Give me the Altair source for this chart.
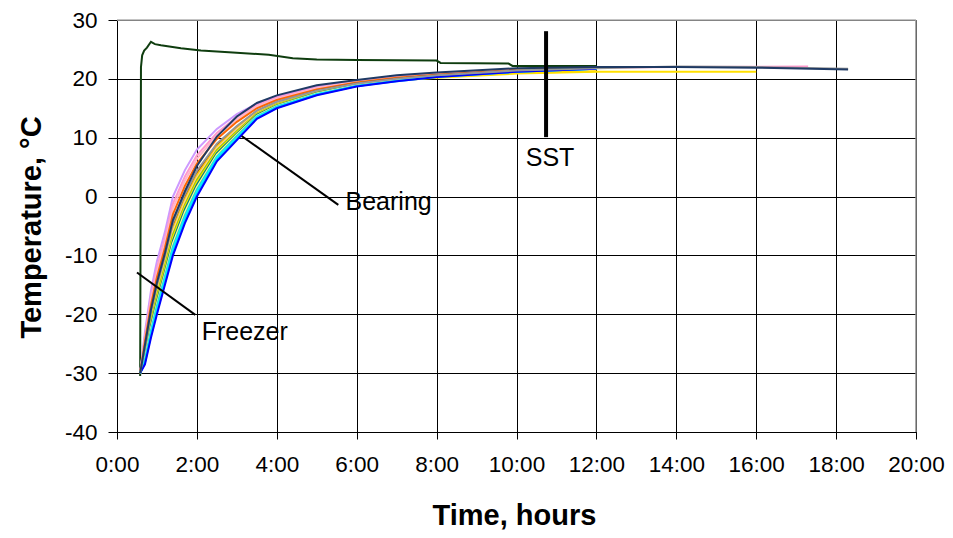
import altair as alt
import pandas as pd

# ---- data ----
hours = [0.58, 0.7, 0.85, 1.0, 1.2, 1.4, 1.7, 2.0, 2.5, 3.0, 3.5, 4.0, 5.0, 6.0, 7.0, 8.0, 10.0, 12.0]

lavender = [-30, -23.0, -16.0, -11.0, -6.0, 0.0, 4.5, 8.0, 11.5, 14.0, 15.8, 17.0, 18.7, 19.7, 20.4, 20.9, 21.6, 21.9]
rose = [-30, -23.7, -17.0, -12.1, -7.1, -1.2, 3.4, 7.0, 10.8, 13.5, 15.5, 16.8, 18.5, 19.6, 20.3, 20.8, 21.5, 21.9]
rose_ext_hours = [14.0, 17.3]
rose_ext = [22.0, 22.1]
pink = [-30, -24.1, -17.6, -12.8, -7.8, -2.0, 2.7, 6.4, 10.4, 13.1, 15.3, 16.6, 18.4, 19.5, 20.2, 20.8, 21.5, 21.9]
orange = [-30, -24.6, -18.4, -13.7, -8.7, -3.0, 1.8, 5.6, 9.8, 12.7, 15.0, 16.4, 18.2, 19.4, 20.2, 20.7, 21.5, 21.8]
brown = [-30, -25.8, -20.0, -15.5, -10.5, -5.0, 0.0, 4.0, 8.8, 11.8, 14.5, 16.0, 18.0, 19.2, 20.0, 20.6, 21.4, 21.8]
gold = [-30, -26.0, -20.4, -16.0, -11.0, -5.5, -0.5, 3.6, 8.5, 11.6, 14.4, 15.9, 17.9, 19.1, 19.9, 20.3, 21.0, 21.3]
tan = [-30, -26.3, -20.8, -16.4, -11.4, -6.0, -0.9, 3.2, 8.2, 11.4, 14.2, 15.8, 17.8, 19.1, 19.9, 20.5, 21.4, 21.8]
lime = [-30, -26.6, -21.2, -16.8, -11.8, -6.5, -1.4, 2.8, 7.9, 11.1, 14.1, 15.7, 17.7, 19.0, 19.9, 20.5, 21.3, 21.8]
yellow = [-30, -26.8, -21.6, -17.3, -12.3, -7.0, -1.8, 2.4, 7.6, 10.9, 14.0, 15.6, 17.6, 19.0, 19.7, 20.2, 20.9, 21.2]
yellow_ext_hours = [14.0, 16.0]
yellow_ext = [21.2, 21.2]
teal = [-30, -27.1, -22.0, -17.8, -12.8, -7.5, -2.2, 2.0, 7.4, 10.7, 13.9, 15.5, 17.6, 19.0, 19.8, 20.4, 21.3, 21.8]
lightyellow = [-30, -27.4, -22.4, -18.2, -13.2, -8.0, -2.7, 1.6, 7.1, 10.5, 13.7, 15.4, 17.5, 18.9, 19.8, 20.4, 21.3, 21.7]
aqua = [-30, -27.7, -22.8, -18.6, -13.6, -8.5, -3.2, 1.2, 6.8, 10.3, 13.6, 15.3, 17.4, 18.8, 19.7, 20.4, 21.3, 21.7]
cyan = [-30, -28.0, -23.2, -19.1, -14.1, -9.0, -3.6, 0.8, 6.6, 10.0, 13.5, 15.2, 17.4, 18.8, 19.7, 20.4, 21.2, 21.7]
skyblue = [-30, -28.2, -23.6, -19.6, -14.6, -9.5, -4.0, 0.4, 6.3, 9.8, 13.3, 15.1, 17.3, 18.8, 19.6, 20.3, 21.2, 21.7]
blue = [-30, -28.5, -24.0, -20.0, -15.0, -10.0, -4.5, 0.0, 6.0, 9.6, 13.2, 15.0, 17.2, 18.7, 19.6, 20.3, 21.2, 21.7]
gray = [-30, -25.5, -19.6, -15.0, -10.0, -4.5, 0.4, 4.4, 9.0, 12.0, 14.6, 16.1, 18.0, 19.2, 20.0, 20.6, 21.4, 21.8]
gray_ext_hours = [14.0, 16.0, 18.3]
gray_ext = [22.1, 22.0, 21.7]
navy = [-30, -25.2, -19.2, -14.6, -9.6, -4.0, 0.9, 5.2, 10.2, 13.6, 15.9, 17.2, 18.9, 19.8, 20.6, 21.1, 21.8, 22.0]
navy_ext_hours = [14.0, 16.0, 18.3]
navy_ext = [22.0, 21.9, 21.6]

freezer_hours = [0.58, 0.6, 0.63, 0.68, 0.75, 0.85, 0.95, 1.1, 1.6, 2.1, 2.8, 3.8, 4.4, 5.0, 6.0, 8.0, 8.1, 9.8, 9.9, 12.0]
freezer_temp = [-30.5, 22.0, 24.0, 24.8, 25.3, 26.3, 25.9, 25.7, 25.2, 24.8, 24.5, 24.1, 23.5, 23.3, 23.2, 23.1, 22.7, 22.6, 22.2, 22.2]

x_ticks = [0, 2, 4, 6, 8, 10, 12, 14, 16, 18, 20]
y_ticks = [-40, -30, -20, -10, 0, 10, 20, 30]

# ---- build table ----
series = [
    ("00 freezer", "#0f3d0f", freezer_hours, freezer_temp),
    ("01 lavender", "#CC99FF", hours, lavender),
    ("02 rose", "#FF99CC", hours + rose_ext_hours, rose + rose_ext),
    ("03 pink", "#FFB6C8", hours, pink),
    ("04 orange", "#FF6600", hours, orange),
    ("05 brown", "#993300", hours, brown),
    ("06 gold", "#FFCC00", hours, gold),
    ("07 tan", "#FFCC99", hours, tan),
    ("08 lime", "#99CC00", hours, lime),
    ("09 yellow", "#FFE000", hours + yellow_ext_hours, yellow + yellow_ext),
    ("10 teal", "#008080", hours, teal),
    ("11 lightyellow", "#FFFF99", hours, lightyellow),
    ("12 aqua", "#33CCCC", hours, aqua),
    ("13 cyan", "#00FFFF", hours, cyan),
    ("14 skyblue", "#00CCFF", hours, skyblue),
    ("15 blue", "#0000FF", hours, blue),
    ("16 gray", "#969696", hours + gray_ext_hours, gray + gray_ext),
    ("17 navy", "#1F3A64", hours + navy_ext_hours, navy + navy_ext),
]
rows = []
for name, col, hs, vs in series:
    for h, v in zip(hs, vs):
        rows.append({"series": name, "hours": h, "temp": v})
df = pd.DataFrame(rows)
names = [s[0] for s in series]
colors = [s[1] for s in series]

leaders = pd.DataFrame({
    "hours": [10.74, 3.12, 0.5],
    "temp": [28.1, 10.3, -12.9],
    "hours2": [10.74, 5.54, 1.96],
    "temp2": [10.1, -1.4, -20.1],
})
labels = pd.DataFrame({
    "hours": [10.84, 5.72, 2.12],
    "temp": [6.5, -0.9, -23.0],
    "txt": ["SST", "Bearing", "Freezer"],
})

x_scale = alt.Scale(domain=[0, 20], nice=False, zero=False)
y_scale = alt.Scale(domain=[-40, 30], nice=False, zero=False)
x_axis = alt.Axis(values=x_ticks, labelExpr="datum.value + ':00'",
                  title="Time, hours", tickSize=7, labelPadding=14,
                  titleX=397, titleY=83, titleBaseline="middle",
                  titleAlign="center", labelFlush=False)
y_axis = alt.Axis(values=y_ticks, title="Temperature, °C", tickSize=9,
                  labelExpr="datum.value < 0 ? '-' + abs(datum.value) : '' + datum.value",
                  labelPadding=11, titleX=-86, titleY=207, titleAngle=-90,
                  titleBaseline="middle", titleAlign="center", labelFlush=False)
X = alt.X("hours:Q", scale=x_scale, axis=x_axis)
Y = alt.Y("temp:Q", scale=y_scale, axis=y_axis)

lines = alt.Chart(df).mark_line(strokeWidth=2).encode(
    x=X, y=Y,
    color=alt.Color("series:N", scale=alt.Scale(domain=names, range=colors), legend=None),
    order=alt.Order("hours:Q"),
)

# light grey frame on the top and right edges (like the reference)
edge_v = alt.Chart(pd.DataFrame({"hours": [20]})).mark_rule(
    color="#8c8c8c", strokeWidth=1.5).encode(x=X)
edge_h = alt.Chart(pd.DataFrame({"temp": [30]})).mark_rule(
    color="#b0b0b0", strokeWidth=1.5).encode(y=Y)

rule_sst = alt.Chart(leaders.iloc[[0]]).mark_rule(color="black", strokeWidth=4).encode(
    x=X, y=Y, y2="temp2:Q",
)
rule_lead = alt.Chart(leaders.iloc[[1, 2]]).mark_rule(color="black", strokeWidth=2).encode(
    x=X, y=Y, x2="hours2:Q", y2="temp2:Q",
)
txt_c = alt.Chart(labels.iloc[[0]]).mark_text(
    font="Liberation Sans", fontSize=25, align="center", baseline="middle", color="black"
).encode(x=X, y=Y, text="txt:N")
txt_l = alt.Chart(labels.iloc[[1, 2]]).mark_text(
    font="Liberation Sans", fontSize=25, align="left", baseline="middle", color="black"
).encode(x=X, y=Y, text="txt:N")

chart = alt.layer(edge_v, edge_h, lines, rule_sst, rule_lead, txt_c, txt_l).properties(
    width=799, height=412,
    autosize=alt.AutoSizeParams(type="none"),
    padding={"left": 109, "top": 12, "right": 29, "bottom": 98},
).configure_axis(
    labelFont="Liberation Sans", labelFontSize=22.5, labelColor="black",
    titleFont="Liberation Sans", titleFontSize=29, titleFontWeight="bold", titleColor="black",
    gridColor="black", gridWidth=1, gridOpacity=1,
    domainColor="black", tickColor="black", domainWidth=1, tickWidth=1,
).configure_view(stroke="#808080", strokeWidth=1)

chart.save("out.html", embed_options={"renderer": "svg", "actions": False})
